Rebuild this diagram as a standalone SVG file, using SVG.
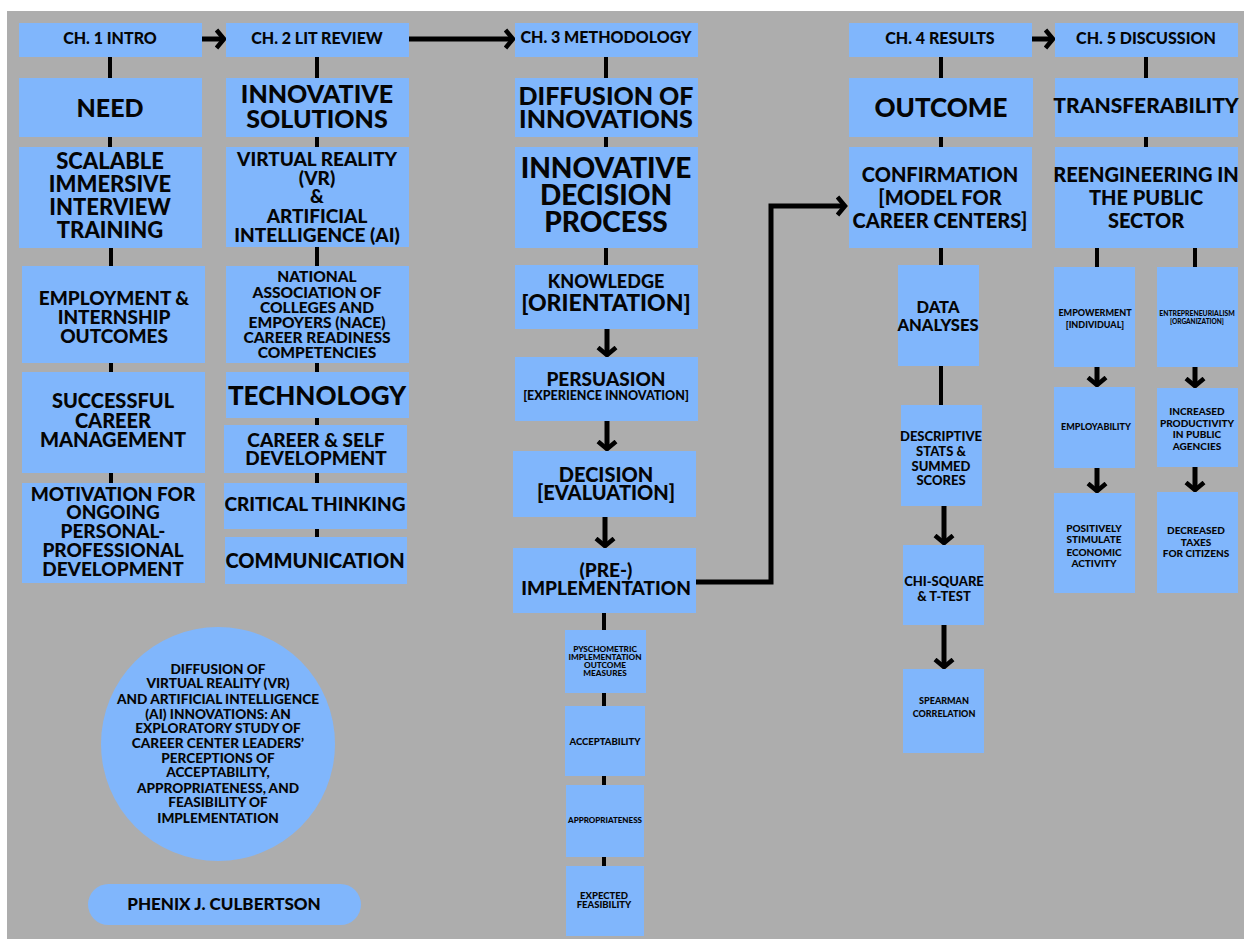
<svg xmlns="http://www.w3.org/2000/svg" width="1244" height="941" viewBox="0 0 1244 941">
<defs>
<style>
.bg{fill:#adadad}
.box{fill:#80b6fc}
text{font-family:Lato,"Liberation Sans",sans-serif;font-weight:900;fill:#050505;text-anchor:middle}
.ln{stroke:#000;stroke-width:4;fill:none}
.ar{stroke:#000;stroke-width:5;fill:none;marker-end:url(#chev)}
</style>
<marker id="chev" viewBox="0 0 12 22" refX="9" refY="11" markerWidth="12" markerHeight="22" markerUnits="userSpaceOnUse" orient="auto">
<path d="M1.5,2 L9,11 L1.5,20" stroke="#000" stroke-width="4.5" fill="none"/>
</marker>
</defs>
<rect width="1244" height="941" fill="#fff"/>
<rect class="bg" x="7" y="11" width="1237" height="928"/>

<g id="connectors">
<line class="ar" x1="202" y1="39" x2="224" y2="39"/>
<line class="ar" x1="409" y1="39" x2="513" y2="39"/>
<line class="ar" x1="1032" y1="39" x2="1053" y2="39"/>
<path class="ln" d="M110,57V78M110,137V147M111,248V266M111,363V372M111,473V483"/>
<path class="ln" d="M317,57V78M317,137V147M317,247V266M317,363V372M317,418V425M317,473V483M317,529V537"/>
<path class="ln" d="M606,57V78M606,137V147M606,248V265M604,613V630M604,693V706M604,776V785M604,857V866"/>
<line class="ar" x1="607" y1="329" x2="607" y2="355"/>
<line class="ar" x1="607" y1="421" x2="607" y2="449"/>
<line class="ar" x1="605" y1="517" x2="605" y2="546"/>
<path class="ar" d="M696,582H771V206H845"/>
<path class="ln" d="M941,57V78M941,137V147M941,248V265M941,366V405"/>
<line class="ar" x1="944" y1="506" x2="944" y2="543"/>
<line class="ar" x1="944" y1="625" x2="944" y2="667"/>
<path class="ln" d="M1146,57V78M1146,137V147M1097,248V267M1195,248V267"/>
<line class="ar" x1="1097" y1="367" x2="1097" y2="385"/>
<line class="ar" x1="1195" y1="367" x2="1195" y2="386"/>
<line class="ar" x1="1097" y1="468" x2="1097" y2="491"/>
<line class="ar" x1="1195" y1="467" x2="1195" y2="490"/>
</g>

<g id="ch1"><rect class="box" x="19" y="23" width="183" height="34"/><text x="110" y="44" font-size="16">CH. 1 INTRO</text></g>
<g id="need"><rect class="box" x="19" y="78" width="183" height="59"/><text x="110" y="117" font-size="25">NEED</text></g>
<g id="scalable"><rect class="box" x="19" y="147" width="183" height="101"/><text font-size="22"><tspan x="110" y="169">SCALABLE</tspan><tspan x="110" y="192">IMMERSIVE</tspan><tspan x="110" y="215">INTERVIEW</tspan><tspan x="110" y="238">TRAINING</tspan></text></g>
<g id="employment"><rect class="box" x="22" y="266" width="183" height="97"/><text font-size="19"><tspan x="114" y="305">EMPLOYMENT &amp;</tspan><tspan x="114" y="324">INTERNSHIP</tspan><tspan x="114" y="343">OUTCOMES</tspan></text></g>
<g id="successful"><rect class="box" x="22" y="372" width="183" height="101"/><text font-size="20"><tspan x="113" y="408">SUCCESSFUL</tspan><tspan x="113" y="428">CAREER</tspan><tspan x="113" y="447">MANAGEMENT</tspan></text></g>
<g id="motivation"><rect class="box" x="22" y="483" width="183" height="100"/><text font-size="19"><tspan x="113" y="501">MOTIVATION FOR</tspan><tspan x="113" y="519">ONGOING</tspan><tspan x="113" y="538">PERSONAL-</tspan><tspan x="113" y="557">PROFESSIONAL</tspan><tspan x="113" y="576">DEVELOPMENT</tspan></text></g>

<g id="ch2"><rect class="box" x="226" y="23" width="183" height="34"/><text x="317" y="44" font-size="16">CH. 2 LIT REVIEW</text></g>
<g id="solutions"><rect class="box" x="226" y="78" width="183" height="59"/><text font-size="25"><tspan x="317" y="103">INNOVATIVE</tspan><tspan x="317" y="128">SOLUTIONS</tspan></text></g>
<g id="vrai"><rect class="box" x="226" y="147" width="183" height="100"/><text font-size="19"><tspan x="317" y="166">VIRTUAL REALITY</tspan><tspan x="317" y="185">(VR)</tspan><tspan x="317" y="203">&amp;</tspan><tspan x="317" y="223">ARTIFICIAL</tspan><tspan x="317" y="242">INTELLIGENCE (AI)</tspan></text></g>
<g id="nace"><rect class="box" x="226" y="266" width="183" height="97"/><text font-size="15.5"><tspan x="317" y="282">NATIONAL</tspan><tspan x="317" y="298">ASSOCIATION OF</tspan><tspan x="317" y="313">COLLEGES AND</tspan><tspan x="317" y="328">EMPOYERS (NACE)</tspan><tspan x="317" y="343">CAREER READINESS</tspan><tspan x="317" y="358">COMPETENCIES</tspan></text></g>
<g id="technology"><rect class="box" x="226" y="372" width="183" height="46"/><text x="317" y="405" font-size="26">TECHNOLOGY</text></g>
<g id="careerself"><rect class="box" x="224" y="425" width="183" height="48"/><text font-size="19"><tspan x="316" y="447">CAREER &amp; SELF</tspan><tspan x="316" y="465">DEVELOPMENT</tspan></text></g>
<g id="critical"><rect class="box" x="224" y="483" width="183" height="46"/><text x="315" y="511" font-size="19">CRITICAL THINKING</text></g>
<g id="communication"><rect class="box" x="225" y="537" width="182" height="47"/><text x="315" y="568" font-size="20">COMMUNICATION</text></g>

<g id="ch3"><rect class="box" x="515" y="23" width="183" height="34"/><text x="606" y="43" font-size="16">CH. 3 METHODOLOGY</text></g>
<g id="diffusion"><rect class="box" x="515" y="78" width="183" height="59"/><text font-size="25"><tspan x="606" y="105">DIFFUSION OF</tspan><tspan x="606" y="128">INNOVATIONS</tspan></text></g>
<g id="idp"><rect class="box" x="515" y="147" width="183" height="101"/><text font-size="28"><tspan x="606" y="178">INNOVATIVE</tspan><tspan x="606" y="205">DECISION</tspan><tspan x="606" y="232">PROCESS</tspan></text></g>
<g id="knowledge"><rect class="box" x="515" y="265" width="183" height="64"/><text><tspan x="606" y="288" font-size="18">KNOWLEDGE</tspan><tspan x="606" y="311" font-size="23">[ORIENTATION]</tspan></text></g>
<g id="persuasion"><rect class="box" x="515" y="357" width="183" height="64"/><text><tspan x="606" y="386" font-size="19">PERSUASION</tspan><tspan x="606" y="400" font-size="12.5">[EXPERIENCE INNOVATION]</tspan></text></g>
<g id="decision"><rect class="box" x="513" y="451" width="183" height="66"/><text font-size="20"><tspan x="606" y="482">DECISION</tspan><tspan x="606" y="500">[EVALUATION]</tspan></text></g>
<g id="implementation"><rect class="box" x="513" y="548" width="183" height="65"/><text font-size="19"><tspan x="606" y="577">(PRE-)</tspan><tspan x="606" y="595">IMPLEMENTATION</tspan></text></g>
<g id="psychometric"><rect class="box" x="565" y="630" width="81" height="63"/><text font-size="8.2"><tspan x="605" y="652">PYSCHOMETRIC</tspan><tspan x="605" y="660">IMPLEMENTATION</tspan><tspan x="605" y="668">OUTCOME</tspan><tspan x="605" y="676">MEASURES</tspan></text></g>
<g id="acceptability"><rect class="box" x="565" y="706" width="80" height="70"/><text x="605" y="745" font-size="9.5">ACCEPTABILITY</text></g>
<g id="appropriateness"><rect class="box" x="566" y="785" width="78" height="72"/><text x="605" y="823" font-size="8">APPROPRIATENESS</text></g>
<g id="feasibility"><rect class="box" x="566" y="866" width="78" height="70"/><text font-size="9.5"><tspan x="604" y="899">EXPECTED</tspan><tspan x="604" y="908">FEASIBILITY</tspan></text></g>

<g id="ch4"><rect class="box" x="849" y="23" width="183" height="34"/><text x="940" y="44" font-size="16">CH. 4 RESULTS</text></g>
<g id="outcome"><rect class="box" x="849" y="78" width="184" height="59"/><text x="941" y="117" font-size="26">OUTCOME</text></g>
<g id="confirmation"><rect class="box" x="849" y="147" width="183" height="101"/><text font-size="20"><tspan x="940" y="182">CONFIRMATION</tspan><tspan x="940" y="205">[MODEL FOR</tspan><tspan x="940" y="228">CAREER CENTERS]</tspan></text></g>
<g id="dataanalyses"><rect class="box" x="898" y="265" width="81" height="101"/><text font-size="16.5"><tspan x="938" y="313">DATA</tspan><tspan x="938" y="331">ANALYSES</tspan></text></g>
<g id="descriptive"><rect class="box" x="901" y="405" width="81" height="101"/><text font-size="13"><tspan x="941" y="441">DESCRIPTIVE</tspan><tspan x="941" y="456">STATS &amp;</tspan><tspan x="941" y="471">SUMMED</tspan><tspan x="941" y="485">SCORES</tspan></text></g>
<g id="chisquare"><rect class="box" x="903" y="545" width="81" height="80"/><text font-size="13"><tspan x="944" y="586">CHI-SQUARE</tspan><tspan x="944" y="601">&amp; T-TEST</tspan></text></g>
<g id="spearman"><rect class="box" x="903" y="669" width="81" height="84"/><text font-size="9"><tspan x="944" y="704">SPEARMAN</tspan><tspan x="944" y="717">CORRELATION</tspan></text></g>

<g id="ch5"><rect class="box" x="1055" y="23" width="183" height="34"/><text x="1146" y="44" font-size="16">CH. 5 DISCUSSION</text></g>
<g id="transferability"><rect class="box" x="1055" y="78" width="183" height="59"/><text x="1146" y="113" font-size="21">TRANSFERABILITY</text></g>
<g id="reengineering"><rect class="box" x="1055" y="147" width="183" height="101"/><text font-size="20"><tspan x="1146" y="182">REENGINEERING IN</tspan><tspan x="1146" y="205">THE PUBLIC</tspan><tspan x="1146" y="228">SECTOR</tspan></text></g>
<g id="empowerment"><rect class="box" x="1054" y="267" width="81" height="100"/><text font-size="9"><tspan x="1095" y="316">EMPOWERMENT</tspan><tspan x="1095" y="328">[INDIVIDUAL]</tspan></text></g>
<g id="entrepreneurialism"><rect class="box" x="1157" y="267" width="81" height="100"/><text><tspan x="1197" y="316" font-size="6.8">ENTREPRENEURIALISM</tspan><tspan x="1197" y="324" font-size="6.5">[ORGANIZATION]</tspan></text></g>
<g id="employability"><rect class="box" x="1054" y="387" width="81" height="81"/><text x="1096" y="430" font-size="9">EMPLOYABILITY</text></g>
<g id="productivity"><rect class="box" x="1157" y="388" width="81" height="79"/><text font-size="10"><tspan x="1197" y="415">INCREASED</tspan><tspan x="1197" y="427">PRODUCTIVITY</tspan><tspan x="1197" y="438">IN PUBLIC</tspan><tspan x="1197" y="450">AGENCIES</tspan></text></g>
<g id="positively"><rect class="box" x="1054" y="493" width="81" height="100"/><text font-size="10"><tspan x="1094" y="532">POSITIVELY</tspan><tspan x="1094" y="543">STIMULATE</tspan><tspan x="1094" y="556">ECONOMIC</tspan><tspan x="1094" y="567">ACTIVITY</tspan></text></g>
<g id="decreased"><rect class="box" x="1157" y="492" width="81" height="101"/><text font-size="10"><tspan x="1196" y="534">DECREASED</tspan><tspan x="1196" y="546">TAXES</tspan><tspan x="1196" y="557">FOR CITIZENS</tspan></text></g>

<g id="title"><circle class="box" cx="218" cy="744" r="117"/><text font-size="13.6"><tspan x="218" y="674">DIFFUSION OF</tspan><tspan x="218" y="688">VIRTUAL REALITY (VR)</tspan><tspan x="218" y="704">AND ARTIFICIAL INTELLIGENCE</tspan><tspan x="218" y="719">(AI) INNOVATIONS: AN</tspan><tspan x="218" y="733">EXPLORATORY STUDY OF</tspan><tspan x="218" y="748">CAREER CENTER LEADERS’</tspan><tspan x="218" y="763">PERCEPTIONS OF</tspan><tspan x="218" y="777">ACCEPTABILITY,</tspan><tspan x="218" y="793">APPROPRIATENESS, AND</tspan><tspan x="218" y="807">FEASIBILITY OF</tspan><tspan x="218" y="823">IMPLEMENTATION</tspan></text></g>
<g id="author"><rect class="box" x="88" y="884" width="273" height="41" rx="20.5"/><text x="224" y="910" font-size="17">PHENIX J. CULBERTSON</text></g>
</svg>
